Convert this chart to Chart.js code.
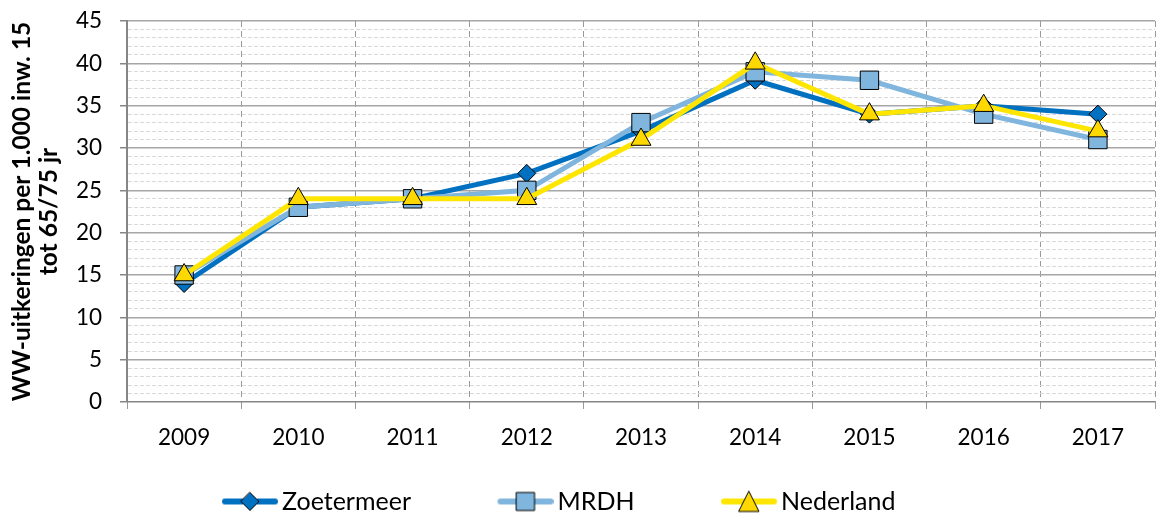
<!DOCTYPE html>
<html>
<head>
<meta charset="utf-8">
<script src="https://cdn.jsdelivr.net/npm/chart.js@4.4.1/dist/chart.umd.min.js"></script>
<style>
  html, body { margin: 0; padding: 0; background: #fff; }
  #wrap { width: 1169px; height: 513px; }
</style>
</head>
<body>
<div id="wrap"><canvas id="chart"></canvas></div>
<script>
// Data
const years = ['2009', '2010', '2011', '2012', '2013', '2014', '2015', '2016', '2017'];
const zoetermeer = [14, 23, 24, 27, 32, 38, 34, 35, 34];
const mrdh = [15, 23, 24, 25, 33, 39, 38, 34, 31];
const nederland = [15, 24, 24, 24, 31, 40, 34, 35, 32];
const yTitle = ['WW-uitkeringen per 1.000 inw. 15', 'tot 65/75 jr'];

const FONT = 'Lato, "Liberation Sans", sans-serif';
const BOX_W = 134;      // legend box width (icon sits at its right end)
const ICON_W = 56;

// Legend icon: thick line with the marker on top, drawn at the right end of a wide canvas
function makeIcon(lineColor, fillColor, style) {
    const c = document.createElement('canvas');
    c.width = BOX_W + 17;
    c.height = 26;
    const g = c.getContext('2d');
    const x0 = c.width - ICON_W;
    const cx = x0 + ICON_W / 2;
    g.strokeStyle = lineColor;
    g.lineWidth = 6;
    g.lineCap = 'round';
    g.beginPath();
    g.moveTo(x0 + 3, 13);
    g.lineTo(c.width - 3, 13);
    g.stroke();
    g.fillStyle = fillColor;
    g.strokeStyle = '#000';
    g.lineWidth = 1;
    g.beginPath();
    if (style === 'rectRot') {
        g.moveTo(cx, 4); g.lineTo(cx + 9, 13); g.lineTo(cx, 22); g.lineTo(cx - 9, 13);
    } else if (style === 'rect') {
        g.rect(cx - 9, 4, 18, 18);
    } else {
        g.moveTo(cx, 3); g.lineTo(cx + 10, 23); g.lineTo(cx - 10, 23);
    }
    g.closePath();
    g.fill();
    g.stroke();
    return c;
}

const series = [
    { label: 'Zoetermeer', data: zoetermeer, line: '#0070C0', fill: '#0070C0', style: 'rectRot', radius: 9, order: 3 },
    { label: 'MRDH', data: mrdh, line: '#80B5DE', fill: '#80B5DE', style: 'rect', radius: 13, order: 2 },
    { label: 'Nederland', data: nederland, line: '#FFE600', fill: '#FFD800', style: 'triangle', radius: 11.5, order: 1 }
];

const datasets = series.map(s => ({
    label: s.label,
    data: s.data,
    borderColor: s.line,
    backgroundColor: s.fill,
    borderWidth: 5,
    tension: 0,
    pointStyle: s.style,
    pointRadius: s.radius,
    pointHoverRadius: s.radius,
    pointBackgroundColor: s.fill,
    pointBorderColor: '#000',
    pointBorderWidth: 1,
    order: s.order,
    icon: makeIcon(s.line, s.fill, s.style)
}));

const isMajor = ctx => !ctx.tick || ctx.tick.value % 5 === 0;

// Places the bottom legend like the original (starts under 2009, sits low)
const legendShift = {
    id: 'legendShift',
    afterLayout(chart) {
        const lg = chart.legend;
        if (lg) {
            lg.left = 135.5;
            lg.top += 11;
            lg.bottom += 11;
        }
    }
};

new Chart(document.getElementById('chart'), {
    type: 'line',
    data: { labels: years, datasets: datasets },
    plugins: [legendShift],
    options: {
        responsive: true,
        maintainAspectRatio: false,
        animation: false,
        layout: { padding: { top: 0, right: 1, bottom: 0, left: 0 } },
        plugins: {
            tooltip: { enabled: false },
            legend: {
                position: 'bottom',
                align: 'start',
                labels: {
                    usePointStyle: true,
                    pointStyleWidth: BOX_W,
                    padding: 0,
                    color: '#000',
                    font: { family: FONT, size: 25, lineHeight: 1.0 },
                    generateLabels: chart => chart.data.datasets.map((ds, i) => ({
                        text: ds.label,
                        pointStyle: ds.icon,
                        fillStyle: ds.borderColor,
                        strokeStyle: ds.borderColor,
                        lineWidth: 0,
                        hidden: false,
                        datasetIndex: i,
                        fontColor: '#000'
                    }))
                }
            }
        },
        scales: {
            x: {
                offset: true,
                afterFit: scale => { scale.height = 76; },
                grid: {
                    offset: true,
                    color: '#999999',
                    lineWidth: 1,
                    tickLength: 7,
                    tickColor: '#999999'
                },
                border: { display: false, dash: [6, 4] },
                ticks: {
                    color: '#000',
                    padding: 15,
                    font: { family: FONT, size: 22.5 }
                }
            },
            y: {
                min: 0,
                max: 45,
                afterFit: scale => {
                    scale.width = 127;
                    scale.paddingTop = 21;
                },
                grid: {
                    color: ctx => ctx.tick && ctx.tick.value === 0 ? '#868686' : (isMajor(ctx) ? '#a6a6a6' : '#d9d9d9'),
                    lineWidth: ctx => isMajor(ctx) ? 1.5 : 1,
                    tickColor: ctx => isMajor(ctx) ? '#868686' : 'rgba(0,0,0,0)',
                    tickLength: 7
                },
                border: {
                    color: '#868686',
                    width: 2,
                    dash: ctx => isMajor(ctx) ? [] : [4, 2]
                },
                ticks: {
                    stepSize: 1,
                    autoSkip: false,
                    color: '#000',
                    padding: 18,
                    font: { family: FONT, size: 22.5 },
                    callback: v => (v % 5 === 0 ? v : '')
                },
                title: {
                    display: true,
                    text: yTitle,
                    color: '#000',
                    padding: { top: 9, bottom: 14 },
                    font: { family: FONT, size: 24.5, weight: 'bold', lineHeight: 1.1 }
                }
            }
        }
    }
});
</script>
</body>
</html>
